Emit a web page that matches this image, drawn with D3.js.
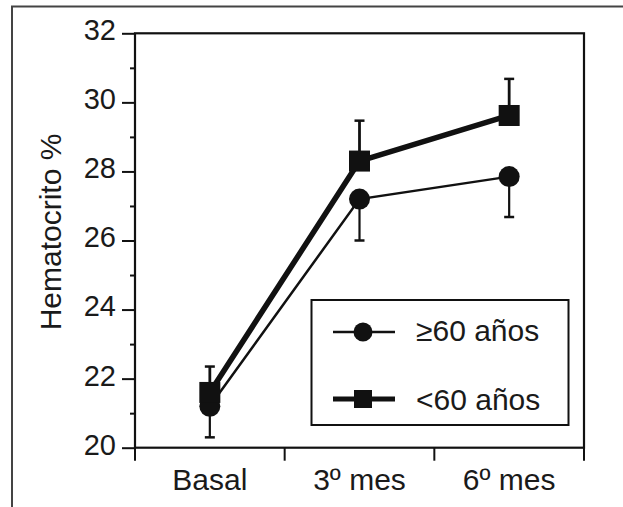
<!DOCTYPE html>
<html>
<head>
<meta charset="utf-8">
<script src="https://cdn.jsdelivr.net/npm/d3@7"></script>
<style>
  html, body { margin: 0; padding: 0; background: #fff; }
  svg { display: block; }
  text { font-family: "Liberation Sans", Arial, Helvetica, sans-serif; fill: #1a1a1a; }
</style>
</head>
<body>
<svg id="chart" width="623" height="507"></svg>
<script>
// ---- data ----
const categories = ["Basal", "3º mes", "6º mes"];
const seriesNames = ["≥60 años", "<60 años"];
const mayor60 = [21.2, 27.2, 27.85];
const mayor60Err = [0.9, 1.2, 1.17];   // drawn downward
const menor60 = [21.6, 28.3, 29.62];
const menor60Err = [0.75, 1.17, 1.06]; // drawn upward
const yTicks = [20, 22, 24, 26, 28, 30, 32];
const yMinorTicks = [21, 23, 25, 27, 29, 31];
const yTitle = "Hematocrito %";

// ---- layout ----
const svg = d3.select("#chart");
const pL = 135, pR = 584, pT = 33.3, pB = 447.7;

// outer page frame
svg.append("rect")
  .attr("x", 12).attr("y", 6.5).attr("width", 700).attr("height", 600)
  .attr("fill", "none").attr("stroke", "#444").attr("stroke-width", 2);

const x = d3.scaleBand().domain(categories).range([pL, pR]).padding(0);
const y = d3.scaleLinear().domain([20, 32]).range([pB, pT]);

// plot frame
svg.append("rect")
  .attr("x", pL).attr("y", pT).attr("width", pR - pL).attr("height", pB - pT)
  .attr("fill", "none").attr("stroke", "#111").attr("stroke-width", 2.2);

// y axis
const yAxis = svg.append("g").attr("transform", `translate(${pL},0)`)
  .call(d3.axisLeft(y).tickValues(yTicks).tickFormat(d3.format("d")).tickSize(13).tickPadding(6));
yAxis.select(".domain").remove();
yAxis.selectAll(".tick line").attr("stroke", "#111").attr("stroke-width", 2);
yAxis.selectAll(".tick text")
  .attr("fill", "#1a1a1a").style("font-size", "29px")
  .style("font-family", '"Liberation Sans", Arial, sans-serif')
  .attr("dy", "0.22em");

const yMinor = svg.append("g").attr("transform", `translate(${pL},0)`)
  .call(d3.axisLeft(y).tickValues(yMinorTicks).tickFormat("").tickSize(5));
yMinor.select(".domain").remove();
yMinor.selectAll(".tick line").attr("stroke", "#111").attr("stroke-width", 2);

// x axis: ticks at band boundaries
const boundaries = [pL].concat(categories.map(c => x(c) + x.bandwidth()));
svg.append("g").selectAll("line").data(boundaries).join("line")
  .attr("x1", d => d).attr("x2", d => d)
  .attr("y1", pB).attr("y2", pB + 13)
  .attr("stroke", "#111").attr("stroke-width", 2);

svg.append("g").selectAll("text").data(categories).join("text")
  .attr("x", d => x(d) + x.bandwidth() / 2)
  .attr("y", 490)
  .attr("text-anchor", "middle")
  .style("font-size", "30px")
  .text(d => d);

// y title
svg.append("text")
  .attr("transform", "translate(61,232) rotate(-90)")
  .attr("text-anchor", "middle")
  .style("font-size", "30px")
  .text(yTitle);

const cx = d => x(d) + x.bandwidth() / 2;

// error bars
function errBars(vals, errs, dir, sw) {
  const g = svg.append("g");
  categories.forEach((c, i) => {
    const y0 = y(vals[i]), y1 = y(vals[i] + dir * errs[i]);
    g.append("line").attr("x1", cx(c)).attr("x2", cx(c)).attr("y1", y0).attr("y2", y1)
      .attr("stroke", "#111").attr("stroke-width", sw);
    g.append("line").attr("x1", cx(c) - 5).attr("x2", cx(c) + 5).attr("y1", y1).attr("y2", y1)
      .attr("stroke", "#111").attr("stroke-width", 2.5);
  });
}
errBars(mayor60, mayor60Err, -1, 2.2);
errBars(menor60, menor60Err, 1, 2.8);

// lines
const line = d3.line().x((d, i) => cx(categories[i])).y(d => y(d));
svg.append("path").datum(mayor60).attr("d", line)
  .attr("fill", "none").attr("stroke", "#111").attr("stroke-width", 2.5);
svg.append("path").datum(menor60).attr("d", line)
  .attr("fill", "none").attr("stroke", "#111").attr("stroke-width", 5.5).attr("stroke-linejoin", "round");

// markers
svg.append("g").selectAll("circle").data(mayor60).join("circle")
  .attr("cx", (d, i) => cx(categories[i])).attr("cy", d => y(d)).attr("r", 10.5)
  .attr("fill", "#111");
svg.append("g").selectAll("rect").data(menor60).join("rect")
  .attr("x", (d, i) => cx(categories[i]) - 10.5).attr("y", d => y(d) - 10.5)
  .attr("width", 21).attr("height", 21)
  .attr("fill", "#111");

// legend
const lg = svg.append("g");
lg.append("rect").attr("x", 311.5).attr("y", 300).attr("width", 257).attr("height", 125)
  .attr("fill", "#fff").attr("stroke", "#111").attr("stroke-width", 2);
// entry 1
lg.append("line").attr("x1", 333).attr("x2", 395).attr("y1", 332).attr("y2", 332)
  .attr("stroke", "#111").attr("stroke-width", 2.5);
lg.append("circle").attr("cx", 363).attr("cy", 332).attr("r", 9.5).attr("fill", "#111");
lg.append("text").attr("x", 416).attr("y", 341).style("font-size", "30px").text(seriesNames[0]);
// entry 2
lg.append("line").attr("x1", 333).attr("x2", 395).attr("y1", 399).attr("y2", 399)
  .attr("stroke", "#111").attr("stroke-width", 5);
lg.append("rect").attr("x", 354).attr("y", 390).attr("width", 18).attr("height", 18).attr("fill", "#111");
lg.append("text").attr("x", 416).attr("y", 410).style("font-size", "30px").text(seriesNames[1]);
</script>
</body>
</html>
